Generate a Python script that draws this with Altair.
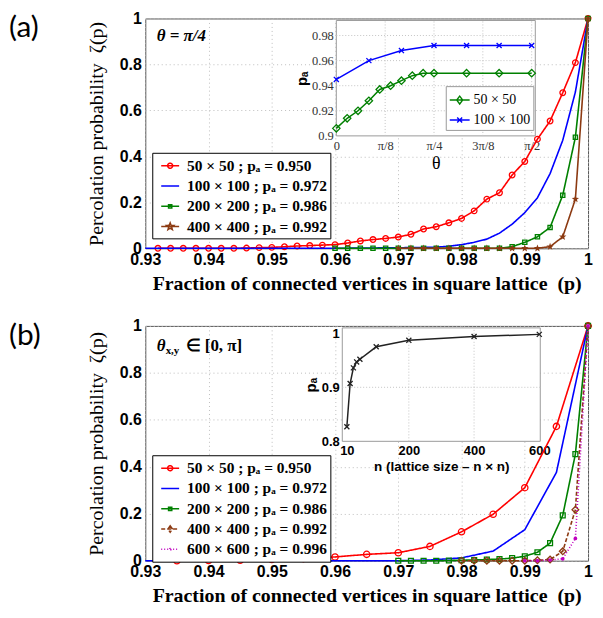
import math
import altair as alt
import pandas as pd

# ---------------- panel (a) : theta = pi/4 ----------------
A_P50 = [0.932, 0.934, 0.936, 0.938, 0.940, 0.942, 0.944, 0.946, 0.948, 0.950, 0.952, 0.954,
         0.956, 0.958, 0.960, 0.962, 0.964, 0.966, 0.968, 0.970, 0.972, 0.974, 0.976, 0.978,
         0.980, 0.982, 0.984, 0.986, 0.988, 0.990, 0.992, 0.994, 0.996, 0.998, 1.000]
A_Z50 = [0, 0, 0, 0, 0, 0, 0, 0.001, 0.003, 0.004, 0.007, 0.010,
         0.012, 0.014, 0.016, 0.023, 0.032, 0.038, 0.043, 0.049, 0.061, 0.084, 0.094, 0.111,
         0.130, 0.163, 0.214, 0.242, 0.319, 0.378, 0.475, 0.554, 0.677, 0.808, 1.0]
A_P100 = [0.930, 0.960, 0.964, 0.968, 0.972, 0.976, 0.978, 0.980, 0.982, 0.984, 0.986, 0.988,
          0.990, 0.992, 0.994, 0.996, 0.998, 1.000]
A_Z100 = [0, 0, 0.001, 0.002, 0.003, 0.005, 0.009, 0.016, 0.026, 0.040, 0.066, 0.105,
          0.155, 0.220, 0.325, 0.470, 0.680, 1.0]
A_P200 = [0.960, 0.962, 0.964, 0.966, 0.968, 0.970, 0.972, 0.974, 0.976, 0.978, 0.980, 0.982,
          0.984, 0.986, 0.988, 0.990, 0.992, 0.994, 0.996, 0.998, 1.000]
A_Z200 = [0, 0, 0, 0, 0, 0, 0, 0, 0, 0, 0, 0,
          0, 0, 0.007, 0.026, 0.050, 0.091, 0.231, 0.483, 1.0]
A_P400 = [0.970, 0.972, 0.974, 0.976, 0.978, 0.980, 0.982, 0.984, 0.986, 0.988, 0.990, 0.992,
          0.994, 0.996, 0.998, 1.000]
A_Z400 = [0, 0, 0, 0, 0, 0, 0, 0, 0, 0, 0, 0,
          0.007, 0.050, 0.214, 1.0]

# inset (a): p_a versus theta (degrees)
IA_DEG50 = [0, 5, 10, 15, 20, 25, 30, 35, 40, 45, 60, 75, 90]
IA_PA50 = [0.906, 0.914, 0.920, 0.928, 0.937, 0.940, 0.944, 0.948, 0.950, 0.950, 0.950, 0.950, 0.950]
IA_DEG100 = [0, 15, 30, 45, 60, 75, 90]
IA_PA100 = [0.945, 0.960, 0.968, 0.972, 0.972, 0.972, 0.972]

# ---------------- panel (b) : theta_xy in [0, pi] ----------------
B_P50 = [0.935, 0.940, 0.945, 0.950, 0.955, 0.960, 0.965, 0.970, 0.975, 0.980, 0.985, 0.990, 0.995, 1.000]
B_Z50 = [0, 0.001, 0.002, 0.005, 0.009, 0.016, 0.027, 0.034, 0.061, 0.123, 0.198, 0.311, 0.572, 1.0]
B_P100 = [0.930, 0.970, 0.975, 0.980, 0.985, 0.990, 0.995, 1.000]
B_Z100 = [0, 0, 0.003, 0.012, 0.041, 0.132, 0.376, 1.0]
B_P200 = [0.970, 0.972, 0.974, 0.976, 0.978, 0.980, 0.982, 0.984, 0.986, 0.988, 0.990, 0.992,
          0.994, 0.996, 0.998, 1.000]
B_Z200 = [0, 0, 0, 0, 0.001, 0.002, 0.003, 0.005, 0.007, 0.011, 0.019, 0.036,
          0.075, 0.193, 0.454, 1.0]
B_P400 = [0.980, 0.982, 0.984, 0.986, 0.988, 0.990, 0.992, 0.994, 0.996, 0.998, 1.000]
B_Z400 = [0, 0, 0, 0, 0, 0, 0.002, 0.005, 0.040, 0.217, 1.0]
B_P600 = [0.990, 0.992, 0.994, 0.996, 0.998, 1.000]
B_Z600 = [0, 0, 0.003, 0.008, 0.095, 1.0]

# inset (b): p_a versus lattice size n
IB_N = [10, 20, 30, 40, 50, 100, 200, 400, 600]
IB_PA = [0.827, 0.907, 0.936, 0.947, 0.952, 0.975, 0.987, 0.994, 0.998]

# ticks / labels
X_TICKS = [0.93, 0.94, 0.95, 0.96, 0.97, 0.98, 0.99, 1.0]
Y_TICKS = [0, 0.2, 0.4, 0.6, 0.8, 1.0]
IA_XT = [0, 22.5, 45, 67.5, 90]
IA_YT = [0.9, 0.92, 0.94, 0.96, 0.98]
IB_XT = [10, 200, 400, 600]
IB_YT = [0.8, 0.9, 1.0]
SIZES = ["50 × 50", "100 × 100", "200 × 200", "400 × 400", "600 × 600"]
PA = ["0.950", "0.972", "0.986", "0.992", "0.996"]

# ---------------- styles ----------------
RED, BLUE, GREEN, BROWN, MAG, BLACK = "#ff0000", "#0000ff", "#008000", "#8c3a12", "#c000c0", "#222222"
SERIF, SANS = "Liberation Serif", "Liberation Sans"
W, HA, HB = 445, 231, 236


def circle_path(r):
    return f"M{r},0A{r},{r},0,1,1,{-r},0A{r},{r},0,1,1,{r},0Z"


def square_path(h):
    return f"M{-h},{-h}L{h},{-h}L{h},{h}L{-h},{h}Z"


def diamond_path(w, h):
    return f"M0,{-h}L{w},0L0,{h}L{-w},0Z"


def xmark_path(h):
    return f"M{-h},{-h}L{h},{h}M{-h},{h}L{h},{-h}"


def star_path(ro, ri):
    pts = []
    for k in range(10):
        r = ro if k % 2 == 0 else ri
        a = math.radians(-90 + 36 * k)
        pts.append(f"{r * math.cos(a):.3f},{r * math.sin(a):.3f}")
    return "M" + "L".join(pts) + "Z"


SEG = "M-1,0L1,0"
STAR = star_path(1, 0.42)
XMARK = xmark_path(0.8)

STY = {
    "50": dict(color=RED, dash=[1, 0], shape="circle", filled=False, leg=SEG + circle_path(0.28)),
    "100": dict(color=BLUE, dash=[1, 0], shape=None, filled=False, leg=SEG),
    "200": dict(color=GREEN, dash=[1, 0], shape="square", filled=False, leg=SEG + square_path(0.18)),
    "400a": dict(color=BROWN, dash=[1, 0], shape=STAR, filled=True, leg=SEG + star_path(0.42, 0.18)),
    "400b": dict(color=BROWN, dash=[4, 2], shape="diamond", filled=False,
                 leg=SEG + diamond_path(0.26, 0.36)),
    "600": dict(color=MAG, dash=[1, 2], shape="circle", filled=True, leg=SEG + circle_path(0.1)),
}


def leg_label(i):
    s = SIZES[i]
    if len(s) < 9:
        s = "\u2007\u2007" + s
    return f"{s} ; pₐ = {PA[i]}"


def main_part(series, H, legend_y, annots):
    xs = alt.Scale(domain=[0.93, 1.0], nice=False, zero=False)
    ys = alt.Scale(domain=[0, 1], nice=False, zero=False)
    xax = alt.Axis(values=X_TICKS, format="~g", labelFlush=False, labelOverlap=False,
                   grid=True, gridDash=[1, 3], gridColor="#bdbdbd", ticks=False, domain=False,
                   labelFont=SANS, labelFontWeight="bold", labelFontSize=16, labelColor="black",
                   labelPadding=3,
                   title="Fraction of connected vertices in square lattice\u2002(p)",
                   titleFont=SERIF, titleFontWeight="bold", titleFontSize=20, titleColor="black",
                   titlePadding=6)
    yax = alt.Axis(values=Y_TICKS, format="~g", labelOverlap=False,
                   grid=True, gridDash=[1, 3], gridColor="#bdbdbd", ticks=False, domain=False,
                   labelFont=SANS, labelFontWeight="bold", labelFontSize=16, labelColor="black",
                   labelPadding=4,
                   title="Percolation probability\u2002ζ(p)",
                   titleFont=SERIF, titleFontWeight="normal", titleFontSize=20, titleColor="black",
                   titlePadding=13)
    layers = []
    labels, paths, cols, dashes = [], [], [], []
    for (i, key, P, Z, ms) in series:
        st = STY[key]
        df = pd.DataFrame({"p": P, "z": Z})
        base = alt.Chart(df).encode(x=alt.X("p:Q", scale=xs, axis=xax),
                                    y=alt.Y("z:Q", scale=ys, axis=yax))
        layers.append(base.mark_line(color=st["color"], strokeDash=st["dash"], strokeWidth=1.6))
        if st["shape"]:
            layers.append(base.mark_point(shape=st["shape"], size=ms, color=st["color"],
                                          filled=st["filled"], strokeWidth=1.3, opacity=1))
        labels.append(leg_label(i))
        paths.append(st["leg"])
        cols.append(st["color"])
        dashes.append(st["dash"])
    for (tx, ty, txt, size, style, dx, dy) in annots:
        adf = pd.DataFrame({"p": [tx], "z": [ty], "t": [txt]})
        layers.append(alt.Chart(adf).mark_text(align="left", baseline="middle", font=SERIF,
                                               fontSize=size, fontWeight="bold", fontStyle=style,
                                               dx=dx, dy=dy, color="black").encode(
            x=alt.X("p:Q", scale=xs, axis=xax), y=alt.Y("z:Q", scale=ys, axis=yax), text="t:N"))
    lg = alt.Legend(title=None, orient="none", legendX=7, legendY=legend_y, strokeColor="black",
                    fillColor="white", padding=3, symbolSize=324, symbolStrokeWidth=1.5,
                    symbolOpacity=1, symbolOffset=5, labelOffset=7, labelFont=SERIF,
                    labelFontWeight="bold", labelFontSize=15.5, labelColor="black",
                    rowPadding=1.4, labelLimit=400, cornerRadius=0)
    ldf = pd.DataFrame({"leg": labels})
    layers.append(alt.Chart(ldf).mark_point(opacity=0, filled=False).encode(
        shape=alt.Shape("leg:N", scale=alt.Scale(domain=labels, range=paths), legend=lg),
        stroke=alt.Stroke("leg:N", scale=alt.Scale(domain=labels, range=cols), legend=lg),
        strokeDash=alt.StrokeDash("leg:N", scale=alt.Scale(domain=labels, range=dashes), legend=lg)))
    return layers


def inset_part(xs, ys, xax, yax, frame, gxs, gys, series, legend=None):
    layers = []
    fdf = pd.DataFrame({"x0": [frame[0]], "x1": [frame[1]], "y0": [frame[2]], "y1": [frame[3]]})
    layers.append(alt.Chart(fdf).mark_rect(fill="white", stroke="#9a9a9a", strokeWidth=1).encode(
        x=alt.X("x0:Q", scale=xs, axis=xax), x2="x1",
        y=alt.Y("y0:Q", scale=ys, axis=yax), y2="y1"))
    vdf = pd.DataFrame({"gx": gxs, "y0": [frame[2]] * len(gxs), "y1": [frame[3]] * len(gxs)})
    layers.append(alt.Chart(vdf).mark_rule(color="#c4c4c4", strokeDash=[1, 2], strokeWidth=1).encode(
        x=alt.X("gx:Q", scale=xs, axis=xax), y=alt.Y("y0:Q", scale=ys, axis=yax), y2="y1"))
    hdf = pd.DataFrame({"gy": gys, "x0": [frame[0]] * len(gys), "x1": [frame[1]] * len(gys)})
    layers.append(alt.Chart(hdf).mark_rule(color="#c4c4c4", strokeDash=[1, 2], strokeWidth=1).encode(
        y=alt.Y("gy:Q", scale=ys, axis=yax), x=alt.X("x0:Q", scale=xs, axis=xax), x2="x1"))
    for (X, Y, color, shape, size) in series:
        df = pd.DataFrame({"u": X, "v": Y})
        base = alt.Chart(df).encode(x=alt.X("u:Q", scale=xs, axis=xax), y=alt.Y("v:Q", scale=ys, axis=yax))
        layers.append(base.mark_line(color=color, strokeWidth=1.5))
        layers.append(base.mark_point(shape=shape, size=size, color=color, filled=False,
                                      strokeWidth=1.3, opacity=1))
    if legend:
        labels, paths, cols, lx, ly = legend
        lg = alt.Legend(title=None, orient="none", legendX=lx, legendY=ly, strokeColor="#999999",
                        fillColor="white", padding=3, symbolSize=400, symbolStrokeWidth=1.4,
                        symbolOpacity=1, symbolOffset=0, labelOffset=3, labelFont=SERIF,
                        labelFontSize=14, labelColor="black", rowPadding=2, labelLimit=300,
                        cornerRadius=0)
        ldf = pd.DataFrame({"ileg": labels})
        layers.append(alt.Chart(ldf).mark_point(opacity=0, filled=False).encode(
            shape=alt.Shape("ileg:N", scale=alt.Scale(domain=labels, range=paths), legend=lg),
            stroke=alt.Stroke("ileg:N", scale=alt.Scale(domain=labels, range=cols), legend=lg)))
    return layers


def tag_layer(txt):
    return alt.Chart(pd.DataFrame({"t": [txt]})).mark_text(
        align="left", baseline="top", font="Lato", fontSize=30, color="black").encode(
        x=alt.value(-137), y=alt.value(-5), text="t:N")


# ---------------- panel (a) ----------------
a_main = main_part(
    [(0, "50", A_P50, A_Z50, 32), (1, "100", A_P100, A_Z100, 0),
     (2, "200", A_P200, A_Z200, 18), (3, "400a", A_P400, A_Z400, 60)],
    HA, 135, [(0.9318, 0.922, "θ = π/4", 17, "italic", 0, 0)])
ia_x = alt.Scale(domain=[0, 91.67], range=[192, 392], nice=False, zero=False)
ia_y = alt.Scale(domain=[0.9, 0.992], range=[118, 2], nice=False, zero=False)
ia_xax = alt.Axis(orient="bottom", offset=118 - HA, values=IA_XT, grid=False, ticks=False, domain=False,
                  labelExpr="datum.value == 0 ? '0' : datum.value == 22.5 ? 'π/8' : datum.value == 45 ? 'π/4' : datum.value == 67.5 ? '3π/8' : 'π/2'",
                  labelFlush=False, labelOverlap=False, labelFont=SERIF, labelFontSize=12.5,
                  labelColor="#333333", labelPadding=4, title="θ", titleFont=SERIF, titleFontSize=18,
                  titleFontWeight="normal", titleColor="black", titlePadding=2)
ia_yax = alt.Axis(orient="left", offset=-192, values=IA_YT, format="~g", grid=False, ticks=False,
                  domain=False, labelOverlap=False, labelFont=SERIF, labelFontSize=12.5,
                  labelColor="#333333", labelPadding=3, title="pₐ", titleFont=SANS, titleFontSize=15,
                  titleFontWeight="bold", titleColor="black", titlePadding=2)
a_inset = inset_part(ia_x, ia_y, ia_xax, ia_yax, [0, 91.67, 0.9, 0.992], [22.5, 45, 67.5, 90],
                     [0.92, 0.94, 0.96, 0.98],
                     [(IA_DEG50, IA_PA50, GREEN, "diamond", 55), (IA_DEG100, IA_PA100, BLUE, XMARK, 40)],
                     legend=(["50 × 50", "100 × 100"],
                             [SEG + diamond_path(0.3, 0.4), SEG + xmark_path(0.25)],
                             [GREEN, BLUE], 302, 68))
panel_a = alt.layer(alt.layer(*a_main, tag_layer("(a)")), alt.layer(*a_inset)).resolve_scale(
    x="independent", y="independent", shape="independent", stroke="independent",
    strokeDash="independent").properties(width=W, height=HA)

# ---------------- panel (b) ----------------
b_main = main_part(
    [(0, "50", B_P50, B_Z50, 40), (1, "100", B_P100, B_Z100, 0),
     (2, "200", B_P200, B_Z200, 24), (3, "400b", B_P400, B_Z400, 45),
     (4, "600", B_P600, B_Z600, 14)],
    HB, 130,
    [(0.9318, 0.916, "θ", 17, "italic", 0, 0), (0.9318, 0.916, "x,y", 11, "normal", 9, 5),
     (0.9318, 0.916, "∈ [0, π]", 17, "normal", 29, 0)])
ib_x = alt.Scale(domain=[-4, 603], range=[198, 397], nice=False, zero=False)
ib_y = alt.Scale(domain=[0.8, 1.01], range=[116, 2], nice=False, zero=False)
ib_xax = alt.Axis(orient="bottom", offset=116 - HB, values=IB_XT, grid=False, ticks=False, domain=False,
                  labelFlush=False, labelOverlap=False, labelFont=SANS, labelFontWeight="bold",
                  labelFontSize=13, labelColor="black", labelPadding=3,
                  title="n (lattice size – n × n)", titleFont=SANS, titleFontSize=13.5,
                  titleFontWeight="bold", titleColor="black", titlePadding=2)
ib_yax = alt.Axis(orient="left", offset=-198, values=IB_YT, format="~g", grid=False, ticks=False,
                  domain=False, labelOverlap=False, labelFont=SANS, labelFontWeight="bold",
                  labelFontSize=13, labelColor="black", labelPadding=3, title="pₐ", titleFont=SANS,
                  titleFontSize=15, titleFontWeight="bold", titleColor="black", titlePadding=3)
b_inset = inset_part(ib_x, ib_y, ib_xax, ib_yax, [-4, 603, 0.8, 1.01], [200, 400], [0.9],
                     [(IB_N, IB_PA, BLACK, XMARK, 40)])
panel_b = alt.layer(alt.layer(*b_main, tag_layer("(b)")), alt.layer(*b_inset)).resolve_scale(
    x="independent", y="independent", shape="independent", stroke="independent",
    strokeDash="independent").properties(width=W, height=HB)

chart = alt.vconcat(panel_a, panel_b, spacing=23).properties(padding=0, background="white").configure_view(
    stroke="#555555", strokeWidth=1)

chart.save("out.html", embed_options={"renderer": "svg", "actions": False})
